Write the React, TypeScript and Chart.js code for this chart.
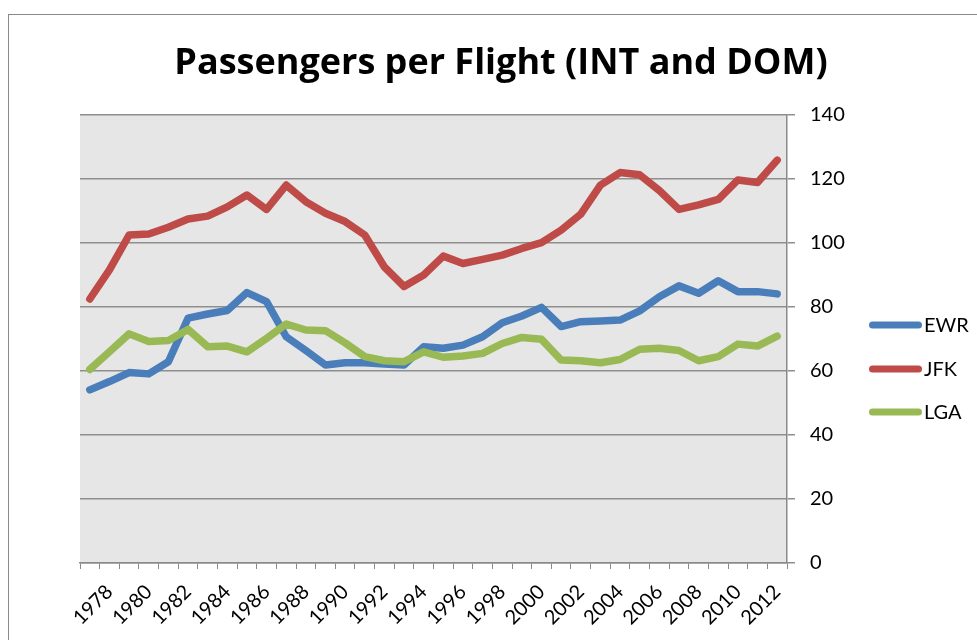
import React, { useEffect, useRef } from "react";
import { Chart, registerables } from "chart.js";

Chart.register(...registerables);

const chartTitle = "Passengers per Flight (INT and DOM)";

const years = [
  "1977", "1978", "1979", "1980", "1981", "1982", "1983", "1984", "1985",
  "1986", "1987", "1988", "1989", "1990", "1991", "1992", "1993", "1994",
  "1995", "1996", "1997", "1998", "1999", "2000", "2001", "2002", "2003",
  "2004", "2005", "2006", "2007", "2008", "2009", "2010", "2011", "2012",
];

const ewr = [
  54.1, 56.7, 59.5, 59.1, 62.9, 76.5, 77.8, 78.9, 84.5, 81.7, 70.7, 66.4,
  61.9, 62.6, 62.6, 62.2, 61.9, 67.6, 67.1, 68.1, 70.7, 75.1, 77.2, 79.9,
  73.9, 75.4, 75.6, 75.9, 78.8, 83.2, 86.6, 84.3, 88.2, 84.8, 84.8, 84.1,
];

const jfk = [
  82.5, 91.6, 102.5, 102.8, 104.9, 107.5, 108.4, 111.3, 115, 110.5, 118.1,
  112.9, 109.3, 106.7, 102.5, 92.5, 86.4, 90, 95.9, 93.6, 94.9, 96.2, 98.3,
  100.1, 104, 109, 118.1, 122, 121.3, 116.4, 110.5, 111.9, 113.6, 119.7,
  118.9, 125.9,
];

const lga = [
  60.5, 66, 71.6, 69.2, 69.5, 73, 67.6, 67.8, 66, 70.2, 74.7, 72.8, 72.6,
  68.8, 64.5, 63.2, 62.9, 66, 64.3, 64.7, 65.5, 68.6, 70.5, 69.9, 63.4,
  63.2, 62.6, 63.6, 66.8, 67.1, 66.4, 63.2, 64.5, 68.4, 67.8, 70.9,
];

const seriesNames = ["EWR", "JFK", "LGA"];
const seriesColors = ["#4A7EBB", "#BE4B48", "#98B954"];
const yTicks = { min: 0, max: 140, step: 20 };

const FONT = "Lato, 'Liberation Sans', Arial, sans-serif";
const TITLE_FONT = "'Open Sans', Lato, sans-serif";

const decorPlugin = {
  id: "decor",
  beforeDraw(chart: any) {
    const { ctx, chartArea, width, height } = chart;
    ctx.save();
    ctx.fillStyle = "#ffffff";
    ctx.fillRect(0, 0, width, height);
    ctx.fillStyle = "#e6e6e6";
    ctx.fillRect(
      chartArea.left,
      chartArea.top,
      chartArea.right - chartArea.left,
      chartArea.bottom - chartArea.top
    );
    ctx.restore();
  },
  afterDraw(chart: any) {
    const { ctx, width, height } = chart;
    ctx.save();
    // outer frame
    ctx.strokeStyle = "#8a8a8a";
    ctx.lineWidth = 1;
    ctx.strokeRect(8.5, 14.5, width + 20, height + 20);
    // title
    ctx.fillStyle = "#000";
    ctx.font = "bold 36px " + TITLE_FONT;
    ctx.textAlign = "center";
    ctx.textBaseline = "alphabetic";
    ctx.fillText(chartTitle, 501, 74);
    // legend
    const ys = [325, 369, 412];
    chart.data.datasets.forEach((ds: any, i: number) => {
      const y = ys[i];
      ctx.strokeStyle = ds.borderColor;
      ctx.lineWidth = 7;
      ctx.lineCap = "round";
      ctx.beginPath();
      ctx.moveTo(872.5, y);
      ctx.lineTo(918.5, y);
      ctx.stroke();
      ctx.fillStyle = "#000";
      ctx.font = "20px " + FONT;
      ctx.textAlign = "left";
      ctx.textBaseline = "middle";
      ctx.fillText(ds.label, 924, y + 1);
    });
    ctx.restore();
  },
};

export default function App() {
  const ref = useRef<HTMLCanvasElement | null>(null);

  useEffect(() => {
    if (!ref.current) return;
    const seriesData = [ewr, jfk, lga];
    const chart = new Chart(ref.current, {
      type: "line",
      data: {
        labels: years,
        datasets: seriesNames.map((name, i) => ({
          label: name,
          data: seriesData[i],
          borderColor: seriesColors[i],
          backgroundColor: seriesColors[i],
          borderWidth: 7.5,
          pointRadius: 0,
          pointHoverRadius: 0,
          tension: 0,
          borderCapStyle: "round" as const,
          borderJoinStyle: "round" as const,
          order: 2 - i,
        })),
      },
      options: {
        responsive: false,
        maintainAspectRatio: false,
        animation: false,
        layout: { padding: { left: 80, top: 115, right: 0, bottom: 0 } },
        plugins: {
          legend: { display: false },
          title: { display: false },
          tooltip: { enabled: false },
        },
        scales: {
          x: {
            type: "category",
            offset: true,
            grid: {
              offset: true,
              drawOnChartArea: false,
              drawTicks: true,
              tickLength: 6,
              color: "#8a8a8a",
              lineWidth: 1,
            },
            border: { display: true, color: "#8a8a8a", width: 1.5 },
            ticks: {
              autoSkip: false,
              minRotation: 45,
              maxRotation: 45,
              padding: 11,
              color: "#000",
              font: { family: FONT, size: 20 },
              callback: function (this: any, _v: any, idx: number) {
                return idx % 2 === 1 ? years[idx] : "";
              },
            },
            afterFit: (scale: any) => {
              scale.height = 77;
            },
          },
          y: {
            position: "right",
            min: yTicks.min,
            max: yTicks.max,
            grid: {
              drawOnChartArea: true,
              drawTicks: true,
              tickLength: 8,
              color: "#8e8e8e",
              lineWidth: 1.5,
            },
            border: { display: true, color: "#8a8a8a", width: 1.5 },
            ticks: {
              stepSize: yTicks.step,
              padding: 15,
              color: "#000",
              font: { family: FONT, size: 20 },
            },
            afterFit: (scale: any) => {
              scale.width = 190;
            },
          },
        },
      },
      plugins: [decorPlugin],
    });
    return () => chart.destroy();
  }, []);

  return (
    <div style={{ position: "absolute", left: 0, top: 0, width: 977, height: 640, overflow: "hidden" }}>
      <canvas ref={ref} width={977} height={640} style={{ display: "block" }} />
    </div>
  );
}
